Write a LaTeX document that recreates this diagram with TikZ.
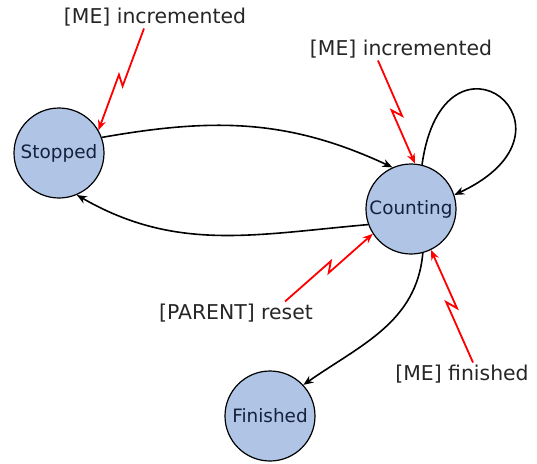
\documentclass[tikz,border=0pt]{standalone}
\usepackage{fontspec}
\setmainfont{DejaVu Sans}
\definecolor{statefill}{HTML}{B0C4E6}
\definecolor{statetext}{HTML}{14213D}
\usetikzlibrary{arrows.meta, calc}

\begin{document}
\begin{tikzpicture}[x=0.5pt, y=0.5pt,
    state/.style={circle, draw=black, line width=0.6pt, fill=statefill,
      minimum size=45pt, inner sep=0pt, font=\fontsize{9.2}{11}\selectfont, text=statetext},
    evt/.style={font=\fontsize{10.2}{12}\selectfont, inner sep=1pt, text=black!85},
    trans/.style={-{Stealth[length=5pt, width=4pt]}, line width=0.8pt},
    signal/.style={red, line width=0.9pt, -{Stealth[length=5pt, width=4pt]},
      to path={-- ($(\tikztostart)!0.55!(\tikztotarget)!2pt!90:(\tikztotarget)$)
        -- ($(\tikztostart)!0.47!(\tikztotarget)!2pt!-90:(\tikztotarget)$)
        -- (\tikztotarget)}}]
  \useasboundingbox (0,0) rectangle (537,463);
  % States
  \node[state] (stopped) at (59,310) {Stopped};
  \node[state] (counting) at (411,254) {Counting};
  \node[state] (finished) at (270,47) {Finished};
  % Events
  \node[evt] (inc1) at (155,446) {[ME] incremented};
  \node[evt] (inc2) at (401,414) {[ME] incremented};
  \node[evt] (reset) at (236,150) {[PARENT] reset};
  \node[evt] (fin) at (462,89) {[ME] finished};
  % Transitions
  \draw[trans] (stopped.20) to[out=10, in=155] (counting.114);
  \draw[trans] (counting.200) to[out=185, in=-30] (stopped.293);
  \draw[trans] (counting.76) to[out=82, in=25, looseness=9] (counting.18);
  \draw[trans] (counting.285) to[out=265, in=35] (finished.43);
  % Signals
  \coordinate (s1) at ([xshift=-5.5pt]inc1.south);
  \coordinate (s2) at ([xshift=-11.5pt]inc2.south);
  \coordinate (s3) at ([xshift=24.5pt]reset.north);
  \coordinate (s4) at ([xshift=5.5pt]fin.north);
  \draw[signal] (s1) to (stopped.30);
  \draw[signal] (s2) to (counting.85);
  \draw[signal] (s3) to (counting.213);
  \draw[signal] (s4) to (counting.296);
\end{tikzpicture}
\end{document}
